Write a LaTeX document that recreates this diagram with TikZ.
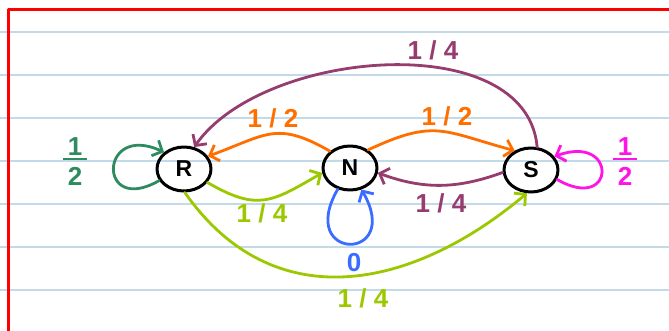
\documentclass[tikz,border=0pt]{standalone}
\usepackage{fontspec}
\setmainfont{Liberation Sans}
\usetikzlibrary{arrows.meta,shapes.geometric}
\definecolor{PaperRed}{HTML}{FF0000}
\definecolor{PaperBlue}{HTML}{C3DAE8}
\definecolor{ChainOrange}{HTML}{FF6F00}
\definecolor{ChainLime}{HTML}{9BC800}
\definecolor{ChainPurple}{HTML}{963C6E}
\definecolor{ChainGreen}{HTML}{2E8B5F}
\definecolor{ChainBlue}{HTML}{3A6CFF}
\definecolor{ChainPink}{HTML}{FF14E6}
\newcommand{\halfmark}{1\\[-21.5pt]\rule{24pt}{2.8pt}\\[-0.5pt]2}

\begin{document}
\begin{tikzpicture}[x=1pt,y=1pt, line cap=round, line join=round,
    state/.style={draw,ellipse,line width=3pt,minimum width=54pt,minimum height=44pt,
      inner sep=0pt,font=\fontsize{23}{23}\selectfont\bfseries},
    trans/.style={line width=2.8pt,-{Straight Barb[length=8pt,width=17pt]}},
    prob/.style={font=\fontsize{26}{26}\selectfont\bfseries,align=center,inner sep=0pt}]
      \useasboundingbox (0,0) rectangle (669,-331);
      \foreach \y in {32,75,118,161,204,247,290}
        \draw[PaperBlue,line width=1.5pt] (0,-\y) -- (669,-\y);
      \draw[PaperRed,line width=3pt,line cap=butt] (8.5,-331) -- (8.5,-10) -- (669,-10);

      \node[state] (R) at (184,-169) {R};
      \node[state] (N) at (350,-168) {N};
      \node[state] (S) at (531,-170) {S};

      \draw[trans,ChainGreen] (R.205) to[out=210,in=155,min distance=72pt] (R.140);
      \draw[trans,ChainBlue] (N.-120) to[out=-120,in=-60,min distance=84pt] (N.-62);
      \draw[trans,ChainPink] (S.-20) to[out=-30,in=20,min distance=68pt] (S.30);

      \draw[trans,ChainLime] (R.-30) to[out=-30,in=210,looseness=1.3] (N.190);
      \draw[trans,ChainLime] (R.-88) to[out=-55,in=220,looseness=1.14] (S.-100);
      \draw[trans,ChainOrange] (N.140) to[out=150,in=20,looseness=1.3] (R.28);
      \draw[trans,ChainOrange] (N.45) to[out=25,in=165,looseness=1.3] (S.130);
      \draw[trans,ChainPurple] (S.185) to[out=200,in=-20] (N.-10);
      \draw[trans,ChainPurple] (S.75) to[out=95,in=55,looseness=0.9] (R.65);

      \node[prob,ChainGreen] (pRR) at (75,-162) {\halfmark};
      \node[prob,ChainPink] (pSS) at (625,-162) {\halfmark};
      \node[prob,ChainBlue] (pNN) at (354,-263) {0};
      \node[prob,ChainOrange] (pNR) at (273,-118) {1 / 2};
      \node[prob,ChainOrange] (pNS) at (447,-116) {1 / 2};
      \node[prob,ChainPurple] (pSR) at (433,-50) {1 / 4};
      \node[prob,ChainPurple] (pSN) at (441,-203) {1 / 4};
      \node[prob,ChainLime] (pRN) at (262,-213) {1 / 4};
      \node[prob,ChainLime] (pRS) at (363,-298) {1 / 4};
    \end{tikzpicture}
\end{document}
